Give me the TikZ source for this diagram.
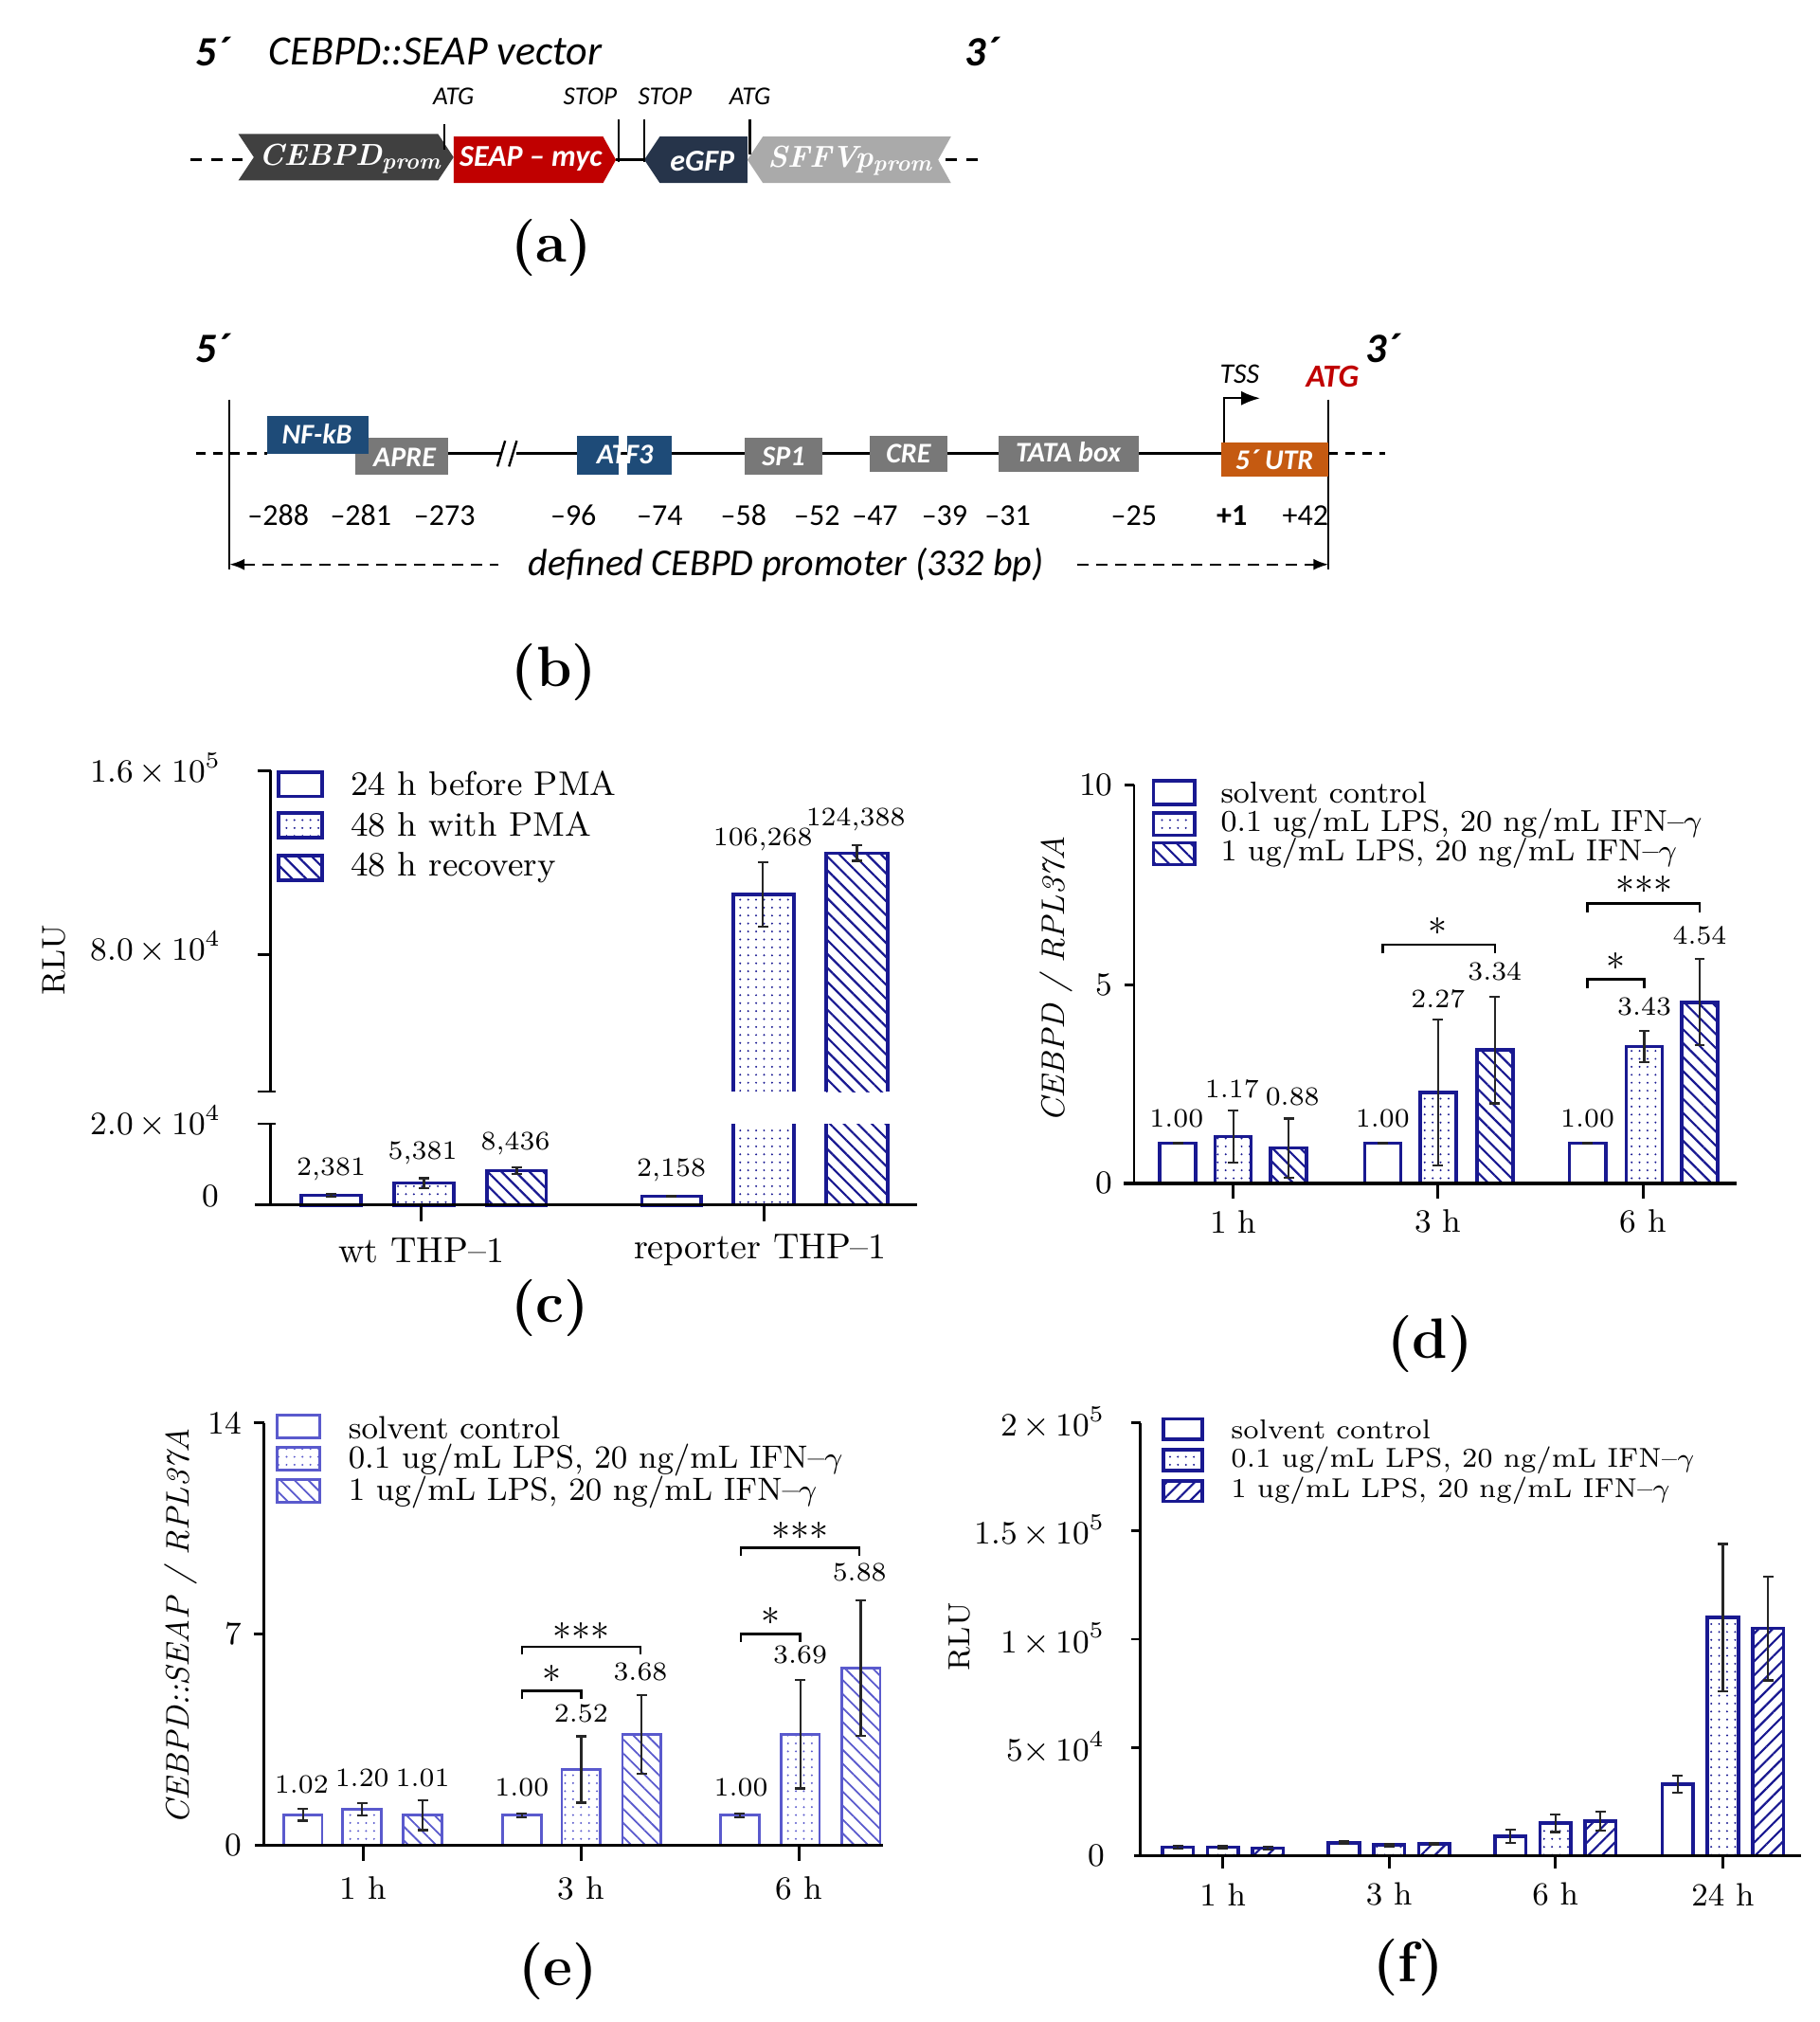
\documentclass[tikz,border=0pt]{standalone}
\usepackage{fontspec}
\newfontfamily\carl{Carlito}
\usetikzlibrary{patterns.meta,arrows.meta}
\definecolor{nv}{RGB}{25,25,145}
\definecolor{lnv}{RGB}{90,90,205}
\definecolor{dg}{RGB}{64,64,64}
\definecolor{mg}{RGB}{120,120,120}
\definecolor{lgr}{RGB}{170,170,170}
\definecolor{rd}{RGB}{192,0,0}
\definecolor{nf}{RGB}{30,75,120}
\definecolor{eg}{RGB}{38,52,74}
\definecolor{or}{RGB}{197,90,17}
\newcommand\mbar[7]{%
 \pgfmathsetmacro\yt{#3-#4*#5}%
 \pgfmathsetmacro\ya{min(#3,#3-#4*(#5-#6))}%
 \pgfmathsetmacro\yb{#3-#4*(#5+#6)}%
 \draw[#7] ({#1-#2},#3) rectangle ({#1+#2},\yt);%
 \draw[eb] (#1,\ya)--(#1,\yb) ({#1-4},\ya)--({#1+4},\ya) ({#1-4},\yb)--({#1+4},\yb);}
\tikzset{
 sc/.style={draw=nv,line width=0.9pt,fill=white},
 dt/.style={draw=nv,line width=0.9pt,pattern={Dots[distance=2.1pt,radius=0.28pt]},pattern color=nv},
 hw/.style={draw=nv,line width=0.9pt,pattern={Lines[angle=-45,distance=2.6pt,line width=0.55pt]},pattern color=nv},
 he/.style={draw=nv,line width=0.9pt,pattern={Lines[angle=45,distance=2.6pt,line width=0.55pt]},pattern color=nv},
 lsc/.style={draw=lnv,line width=0.7pt,fill=white},
 ldt/.style={draw=lnv,line width=0.7pt,pattern={Dots[distance=2.1pt,radius=0.28pt]},pattern color=lnv},
 lhw/.style={draw=lnv,line width=0.7pt,pattern={Lines[angle=-45,distance=2.6pt,line width=0.45pt]},pattern color=lnv},
 eb/.style={line width=0.55pt,black!85},
 ax/.style={line width=0.7pt},
 tk/.style={font=\fontsize{8.6}{10}\selectfont},
 dl/.style={font=\fontsize{7}{8}\selectfont},
 lgd/.style={font=\fontsize{8}{9}\selectfont,anchor=west},
 pl/.style={font=\fontsize{15}{16}\selectfont\bfseries},
 dsh/.style={line width=0.9pt,dash pattern=on 3pt off 2.5pt},
 cs/.style={font=\carl\fontsize{8}{10}\selectfont},
 bx/.style={font=\carl\bfseries\itshape\fontsize{7.5}{9}\selectfont,text=white},
}
\begin{document}
\begin{tikzpicture}[x=0.34pt,y=-0.34pt]
\useasboundingbox (0,0) rectangle (1412,1569);
% ================= (a)
\node[font=\carl\bfseries\itshape\fontsize{11}{12}\selectfont] (a5) at (165,40) {5´};
\node[font=\carl\itshape\fontsize{11}{12}\selectfont] (at) at (338,40) {CEBPD::SEAP vector};
\node[font=\carl\bfseries\itshape\fontsize{11}{12}\selectfont] (a3) at (762,40) {3´};
\draw[dsh] (148,124) -- (188,124);
\draw[dsh] (734,124) -- (760,124);
\draw[line width=0.8pt] (478,124) -- (500,124);
\fill[dg] (185,104) -- (340,104) -- (352,122) -- (340,140) -- (185,140) -- (197,122) -- cycle;
\fill[rd] (352,106) -- (468,106) -- (478,124) -- (468,142) -- (352,142) -- cycle;
\fill[eg] (512,106) -- (580,106) -- (580,142) -- (512,142) -- (500,124) -- cycle;
\fill[lgr] (592,106) -- (738,106) -- (728,124) -- (738,142) -- (592,142) -- (580,124) -- cycle;
\node[text=white,font=\bfseries\itshape\fontsize{8}{9}\selectfont] (g1) at (272,123) {CEBPD\textsubscript{prom}};
\node[bx,font=\carl\bfseries\itshape\fontsize{8}{9}\selectfont] (g2) at (412,123) {SEAP {\textendash} myc};
\node[bx,font=\carl\bfseries\itshape\fontsize{8}{9}\selectfont] (g3) at (545,125) {eGFP};
\node[text=white,font=\bfseries\itshape\fontsize{8}{9}\selectfont] (g4) at (660,125) {SFFVp\textsubscript{prom}};
\draw[line width=0.6pt] (345,96)--(345,116) (480,93)--(480,126) (500,93)--(500,126) (582,93)--(582,120);
\node[font=\carl\itshape\fontsize{6.8}{7}\selectfont] (l1) at (352,75) {ATG};
\node[font=\carl\itshape\fontsize{6.8}{7}\selectfont] (l2) at (458,75) {STOP};
\node[font=\carl\itshape\fontsize{6.8}{7}\selectfont] (l3) at (516,75) {STOP};
\node[font=\carl\itshape\fontsize{6.8}{7}\selectfont] (l4) at (582,75) {ATG};
\node[pl] (pa) at (428,192) {(a)};
% ================= (b)
\node[font=\carl\bfseries\itshape\fontsize{11}{12}\selectfont] (b5) at (165,270) {5´};
\node[font=\carl\bfseries\itshape\fontsize{11}{12}\selectfont] (b3) at (1073,270) {3´};
\draw[line width=0.4pt] (178,310)--(178,442) (1031,310)--(1031,442);
\draw[line width=0.7pt,dash pattern=on 2.5pt off 2pt] (152,352)--(207,352) (1031,352)--(1075,352);
\draw[line width=0.8pt] (348,352)--(389,352) (401,352)--(948,352);
\draw[line width=0.6pt] (386,362)--(392,342) (395,362)--(401,342);
\fill[mg] (276,340) rectangle (348,368);
\fill[nf] (207,323) rectangle (286,352);
\node[bx] (nfk) at (246,337) {NF-kB};
\node[bx] (apre) at (314,355) {APRE};
\fill[nf] (448,338) rectangle (480,368);
\fill[nf] (487,338) rectangle (521,368);
\node[bx] (atf) at (485,353) {ATF3};
\fill[mg] (578,340) rectangle (638,368); \node[bx] (sp1) at (608,354) {SP1};
\fill[mg] (675,338) rectangle (735,366); \node[bx] (cre) at (705,352) {CRE};
\fill[mg] (775,338) rectangle (884,366); \node[bx] (tata) at (829,351) {TATA box};
\fill[or] (948,343) rectangle (1031,370); \node[bx] (utr) at (989,357) {5´ UTR};
\draw[line width=0.6pt,-{Latex[length=5pt]}] (950,343) -- (950,309) -- (978,309);
\node[font=\carl\itshape\fontsize{7.5}{8}\selectfont] (tss) at (962,290) {TSS};
\node[font=\carl\bfseries\itshape\fontsize{8.5}{9}\selectfont,text=rd] (atg) at (1034,292) {ATG};
\foreach \x/\t in {216/288,280/281,345/273,445/96,512/74,577/58,634/52,679/47,733/39,782/31,880/25}
  \node[cs] at (\x,400) {{\textendash}\t};
\node[cs] at (1013,400) {+42};
\node[cs,font=\carl\bfseries\fontsize{8}{10}\selectfont] (p1) at (956,400) {+1};
\draw[line width=0.6pt,dash pattern=on 3pt off 2pt,{Latex[length=4pt]}-{Latex[length=4pt]}] (178,438) -- (1031,438);
\node[font=\carl\itshape\fontsize{10}{12}\selectfont,fill=white,inner xsep=8pt] (def) at (610,438) {defined CEBPD promoter (332 bp)};
\node[pl] (pb) at (430,522) {(b)};
% ================= (c)
\draw[ax] (210,598)--(210,847) (200,598)--(210,598) (200,741)--(210,741) (200,847)--(214,847);
\draw[ax] (210,872)--(210,935) (200,872)--(214,872);
\node[tk,anchor=east] (c1) at (182,597) {1.6\,$\times$\,10\textsuperscript{5}};
\node[tk,anchor=east] (c2) at (182,735) {8.0\,$\times$\,10\textsuperscript{4}};
\node[tk,anchor=east] (c3) at (182,870) {2.0\,$\times$\,10\textsuperscript{4}};
\node[tk,anchor=east] (c4) at (180,928) {0};
\node[tk,rotate=90] (crl) at (42,745) {RLU};
\mbar{257}{23}{935}{3.15}{2.381}{0.3}{sc}
\mbar{329}{23}{935}{3.15}{5.381}{1.2}{dt}
\mbar{401}{23}{935}{3.15}{8.436}{0.8}{hw}
\mbar{521}{23}{935}{3.15}{2.158}{0.2}{sc}
\fill[pattern={Dots[distance=2.1pt,radius=0.28pt]},pattern color=nv] (569,872) rectangle (616,935);
\draw[nv,line width=0.9pt] (569,935)--(569,872) (616,872)--(616,935);
\fill[pattern={Dots[distance=2.1pt,radius=0.28pt]},pattern color=nv] (569,847) rectangle (616,694);
\draw[nv,line width=0.9pt] (569,847)--(569,694)--(616,694)--(616,847);
\fill[pattern={Lines[angle=-45,distance=2.6pt,line width=0.55pt]},pattern color=nv] (641,872) rectangle (689,935);
\draw[nv,line width=0.9pt] (641,935)--(641,872) (689,872)--(689,935);
\fill[pattern={Lines[angle=-45,distance=2.6pt,line width=0.55pt]},pattern color=nv] (641,847) rectangle (689,662);
\draw[nv,line width=0.9pt] (641,847)--(641,662)--(689,662)--(689,847);
\draw[eb] (592,669)--(592,719) (588,669)--(596,669) (588,719)--(596,719);
\draw[eb] (665,656)--(665,668) (661,656)--(669,656) (661,668)--(669,668);
\draw[ax] (198,935)--(712,935) (327,935)--(327,948) (593,935)--(593,948);
\node[dl] at (257,907) {2,381}; \node[dl] at (328,895) {5,381}; \node[dl] at (400,887) {8,436};
\node[dl] at (521,908) {2,158}; \node[dl] at (592,651) {106,268}; \node[dl] at (664,636) {124,388};
\draw[sc] (216,599) rectangle (250,618); \node[lgd,font=\fontsize{9}{10}\selectfont] at (262,608) {24 h before PMA};
\draw[dt] (216,631) rectangle (250,650); \node[lgd,font=\fontsize{9}{10}\selectfont] at (262,640) {48 h with PMA};
\draw[hw] (216,664) rectangle (250,683); \node[lgd,font=\fontsize{9}{10}\selectfont] at (262,673) {48 h recovery};
\node[tk,font=\fontsize{9.5}{10}\selectfont] at (327,970) {wt THP--1};
\node[tk,font=\fontsize{9.5}{10}\selectfont] at (590,970) {reporter THP--1};
\node[pl] (pc) at (427,1015) {(c)};
% ================= (d)
\draw[ax] (880,609)--(880,918) (873,609)--(880,609) (873,764)--(880,764);
\foreach \x in {957,1116,1275} \draw[ax] (\x,918)--(\x,930);
\node[tk,anchor=east] at (874,609) {10}; \node[tk,anchor=east] at (874,764) {5}; \node[tk,anchor=east] at (874,918) {0};
\node[tk,rotate=90,font=\itshape\fontsize{8.6}{10}\selectfont] (dyl) at (820,760) {CEBPD / RPL37A};
\mbar{914}{14}{918}{30.9}{1.00}{0}{sc}
\mbar{957}{14}{918}{30.9}{1.17}{0.65}{dt}
\mbar{1000}{14}{918}{30.9}{0.88}{0.74}{hw}
\mbar{1073}{14}{918}{30.9}{1.00}{0}{sc}
\mbar{1116}{14}{918}{30.9}{2.27}{1.83}{dt}
\mbar{1160}{14}{918}{30.9}{3.34}{1.34}{hw}
\mbar{1232}{14}{918}{30.9}{1.00}{0}{sc}
\mbar{1276}{14}{918}{30.9}{3.43}{0.4}{dt}
\mbar{1319}{14}{918}{30.9}{4.54}{1.08}{hw}
\draw[ax,line width=1pt] (872,918)--(1348,918);
\foreach \x/\y/\t in {913/868/1.00,956/845/1.17,1003/851/0.88,1073/868/1.00,1116/775/2.27,1160/754/3.34,1232/868/1.00,1276/781/3.43,1319/726/4.54}
  \node[dl] at (\x,\y) {\t};
\draw[line width=0.6pt] (1073,740)--(1073,733)--(1160,733)--(1160,740);
\node[font=\fontsize{10}{10}\selectfont] at (1116,723) {*};
\draw[line width=0.6pt] (1232,767)--(1232,760)--(1276,760)--(1276,767);
\node[font=\fontsize{10}{10}\selectfont] at (1254,750) {*};
\draw[line width=0.6pt] (1232,708)--(1232,701)--(1319,701)--(1319,708);
\node[font=\fontsize{10}{10}\selectfont] at (1276,691) {***};
\draw[sc] (895,606) rectangle (927,624); \node[lgd] at (937,615) {solvent control};
\draw[dt] (895,631) rectangle (927,648); \node[lgd] at (937,639) {0.1 ug/mL LPS, 20 ng/mL IFN--$\gamma$};
\draw[hw] (895,654) rectangle (927,671); \node[lgd] at (937,662) {1 ug/mL LPS, 20 ng/mL IFN--$\gamma$};
\foreach \x/\t in {957/1 h,1116/3 h,1275/6 h} \node[tk] at (\x,948) {\t};
\node[pl] (pd) at (1110,1043) {(d)};
% ================= (e)
\draw[ax] (205,1104)--(205,1432) (197,1104)--(205,1104) (197,1268)--(205,1268);
\foreach \x in {282,451,620} \draw[ax] (\x,1432)--(\x,1444);
\node[tk,anchor=east] at (198,1104) {14}; \node[tk,anchor=east] at (198,1268) {7}; \node[tk,anchor=east] at (198,1432) {0};
\node[tk,rotate=90,font=\itshape\fontsize{8.6}{10}\selectfont] (eyl) at (140,1262) {CEBPD::SEAP / RPL37A};
\mbar{235}{15}{1432}{23.4}{1.02}{0.2}{lsc}
\mbar{281}{15}{1432}{23.4}{1.20}{0.2}{ldt}
\mbar{328}{15}{1432}{23.4}{1.01}{0.5}{lhw}
\mbar{405}{15}{1432}{23.4}{1.00}{0.06}{lsc}
\mbar{451}{15}{1432}{23.4}{2.52}{1.1}{ldt}
\mbar{498}{15}{1432}{23.4}{3.68}{1.3}{lhw}
\mbar{574}{15}{1432}{23.4}{1.00}{0.06}{lsc}
\mbar{621}{15}{1432}{23.4}{3.69}{1.8}{ldt}
\mbar{668}{15}{1432}{23.4}{5.88}{2.25}{lhw}
\draw[ax] (198,1432)--(685,1432);
\foreach \x/\y/\t in {234/1385/1.02,281/1380/1.20,328/1380/1.01,405/1387/1.00,451/1330/2.52,497/1297/3.68,575/1387/1.00,621/1284/3.69,667/1220/5.88}
  \node[dl] at (\x,\y) {\t};
\draw[line width=0.6pt] (405,1318)--(405,1312)--(451,1312)--(451,1318);
\node[font=\fontsize{10}{10}\selectfont] at (428,1303) {*};
\draw[line width=0.6pt] (405,1284)--(405,1278)--(497,1278)--(497,1284);
\node[font=\fontsize{10}{10}\selectfont] at (451,1270) {***};
\draw[line width=0.6pt] (575,1274)--(575,1268)--(621,1268)--(621,1274);
\node[font=\fontsize{10}{10}\selectfont] at (598,1258) {*};
\draw[line width=0.6pt] (575,1207)--(575,1201)--(667,1201)--(667,1207);
\node[font=\fontsize{10}{10}\selectfont] at (621,1192) {***};
\draw[lsc] (215,1098) rectangle (248,1116); \node[lgd,font=\fontsize{8.5}{10}\selectfont] at (260,1108) {solvent control};
\draw[ldt] (215,1123) rectangle (248,1141); \node[lgd,font=\fontsize{8.5}{10}\selectfont] at (260,1133) {0.1 ug/mL LPS, 20 ng/mL IFN--$\gamma$};
\draw[lhw] (215,1148) rectangle (248,1166); \node[lgd,font=\fontsize{8.5}{10}\selectfont] at (260,1158) {1 ug/mL LPS, 20 ng/mL IFN--$\gamma$};
\foreach \x/\t in {282/1 h,451/3 h,620/6 h} \node[tk] at (\x,1465) {\t};
\node[pl] (pe) at (433,1530) {(e)};
% ================= (f)
\draw[ax] (885,1104)--(885,1440);
\foreach \y in {1104,1188,1272,1356} \draw[ax] (878,\y)--(885,\y);
\foreach \x in {949,1078,1207,1337} \draw[ax] (\x,1440)--(\x,1450);
\node[tk,anchor=east] at (868,1104) {2\,$\times$\,10\textsuperscript{5}};
\node[tk,anchor=east] at (868,1188) {1.5\,$\times$\,10\textsuperscript{5}};
\node[tk,anchor=east] at (868,1272) {1\,$\times$\,10\textsuperscript{5}};
\node[tk,anchor=east] at (868,1356) {5$\times$\,10\textsuperscript{4}};
\node[tk,anchor=east] at (868,1440) {0};
\node[tk,rotate=90,font=\fontsize{8}{9}\selectfont] (frl) at (745,1270) {RLU};
\foreach \cc/\va/\vb/\vd/\ea/\eeb/\ed in {949/4/4/3.5/0.6/0.5/0.6,1078/6/5/5.5/0.6/0.6/0.5,1207/9/15/16/3/4/4.5,1337/33/110/105/4/34/24}{
 \mbar{\cc-35}{12}{1440}{1.68}{\va}{\ea}{sc}
 \mbar{\cc}{12}{1440}{1.68}{\vb}{\eeb}{dt}
 \mbar{\cc+35}{12}{1440}{1.68}{\vd}{\ed}{he}}
\draw[ax] (880,1440)--(1398,1440);
\draw[sc] (903,1101) rectangle (933,1117); \node[lgd,font=\fontsize{7.2}{8}\selectfont] at (945,1109) {solvent control};
\draw[dt] (903,1125) rectangle (933,1141); \node[lgd,font=\fontsize{7.2}{8}\selectfont] at (945,1133) {0.1 ug/mL LPS, 20 ng/mL IFN--$\gamma$};
\draw[he] (903,1149) rectangle (933,1165); \node[lgd,font=\fontsize{7.2}{8}\selectfont] at (945,1157) {1 ug/mL LPS, 20 ng/mL IFN--$\gamma$};
\foreach \x/\t in {949/1 h,1078/3 h,1207/6 h,1337/24 h} \node[tk,font=\fontsize{8.5}{9}\selectfont] at (\x,1470) {\t};
\node[pl] (pf) at (1093,1527) {(f)};
\end{tikzpicture}
\end{document}
